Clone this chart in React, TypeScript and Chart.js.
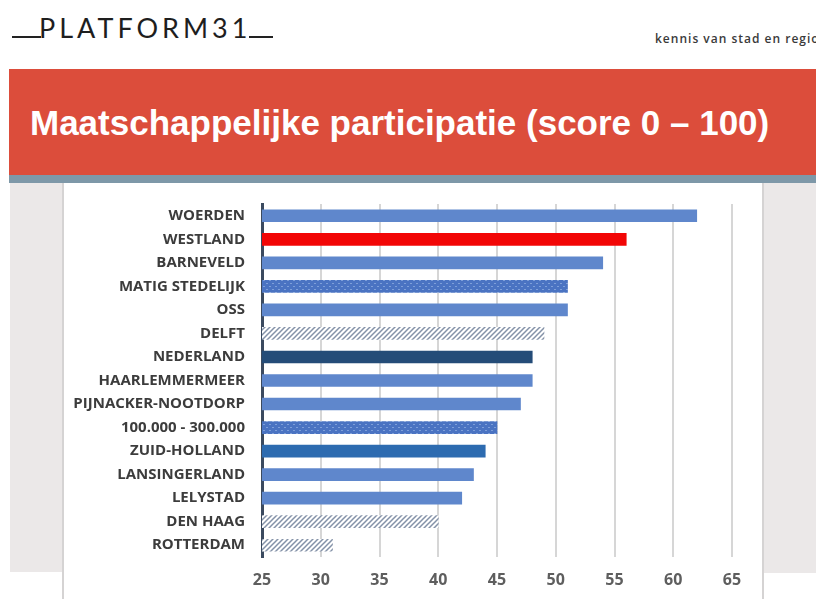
import React, { useEffect, useRef } from "react";
import { Chart, registerables } from "chart.js";

Chart.register(...registerables);

const categories = [
  "WOERDEN",
  "WESTLAND",
  "BARNEVELD",
  "MATIG STEDELIJK",
  "OSS",
  "DELFT",
  "NEDERLAND",
  "HAARLEMMERMEER",
  "PIJNACKER-NOOTDORP",
  "100.000 - 300.000",
  "ZUID-HOLLAND",
  "LANSINGERLAND",
  "LELYSTAD",
  "DEN HAAG",
  "ROTTERDAM",
];

const scores = [62, 56, 54, 51, 51, 49, 48, 48, 47, 45, 44, 43, 42, 40, 31];

const xTickValues = [25, 30, 35, 40, 45, 50, 55, 60, 65];

const titleText = "Maatschappelijke participatie (score 0 \u2013 100)";
const taglineText = "kennis van stad en regio";
const logoText = "PLATFORM31";

// style kind per category (kept apart from the data)
const kindOf: Record<string, string> = {
  WESTLAND: "red",
  "MATIG STEDELIJK": "dots",
  "100.000 - 300.000": "dots",
  DELFT: "hatch",
  "DEN HAAG": "hatch",
  ROTTERDAM: "hatch",
  NEDERLAND: "navy",
  "ZUID-HOLLAND": "mid",
};

function makeDots(): CanvasPattern | string {
  const c = document.createElement("canvas");
  c.width = 6;
  c.height = 6;
  const g = c.getContext("2d");
  if (!g) return "#4D76C4";
  g.fillStyle = "#4A73C2";
  g.fillRect(0, 0, 6, 6);
  g.fillStyle = "#7E9FD9";
  g.fillRect(1, 1, 2, 1);
  g.fillRect(4, 4, 2, 1);
  const p = g.createPattern(c, "repeat");
  return p || "#4D76C4";
}

function makeHatch(): CanvasPattern | string {
  const c = document.createElement("canvas");
  c.width = 5;
  c.height = 5;
  const g = c.getContext("2d");
  if (!g) return "#B0BAC8";
  g.fillStyle = "#FFFFFF";
  g.fillRect(0, 0, 5, 5);
  g.strokeStyle = "#8492A8";
  g.lineWidth = 1.5;
  g.beginPath();
  g.moveTo(-1, 6);
  g.lineTo(6, -1);
  g.moveTo(-1, 1);
  g.lineTo(1, -1);
  g.moveTo(4, 6);
  g.lineTo(6, 4);
  g.stroke();
  const p = g.createPattern(c, "repeat");
  return p || "#B0BAC8";
}

export default function App() {
  const ref = useRef<HTMLCanvasElement | null>(null);

  useEffect(() => {
    if (!ref.current) return;
    const dots = makeDots();
    const hatch = makeHatch();
    const colorFor = (name: string) => {
      const k = kindOf[name];
      if (k === "red") return "#F20606";
      if (k === "dots") return dots;
      if (k === "hatch") return hatch;
      if (k === "navy") return "#244C78";
      if (k === "mid") return "#2D6BB0";
      return "#5F87CC";
    };
    const chart = new Chart(ref.current, {
      type: "bar",
      data: {
        labels: categories,
        datasets: [
          {
            data: scores,
            backgroundColor: categories.map(colorFor) as any,
            borderWidth: 0,
            barThickness: 12,
          },
        ],
      },
      options: {
        indexAxis: "y",
        animation: false,
        responsive: false,
        maintainAspectRatio: false,
        layout: { padding: { top: 21, right: 30, bottom: 0, left: 0 } },
        plugins: {
          legend: { display: false },
          title: { display: false },
          tooltip: { enabled: false },
        },
        scales: {
          x: {
            type: "linear",
            min: 25,
            max: 65,
            afterFit: (axis: any) => {
              axis.height = 42;
              axis.paddingLeft = 0;
              axis.paddingRight = 0;
            },
            afterBuildTicks: (axis: any) => {
              axis.ticks = xTickValues.map((v) => ({ value: v }));
            },
            grid: {
              color: (ctx: any) =>
                ctx.tick && ctx.tick.value === 25 ? "rgba(0,0,0,0)" : "#D6D6D6",
              lineWidth: 2,
              drawTicks: false,
            },
            border: { display: false },
            ticks: {
              padding: 14,
              color: "#5E5E5E",
              font: { family: "'Open Sans'", size: 16, weight: "bold" },
            },
          },
          y: {
            afterFit: (axis: any) => {
              axis.width = 198;
              axis.paddingTop = 0;
              axis.paddingBottom = 0;
            },
            grid: { display: false, drawTicks: false },
            border: { display: true, color: "#3B4A5F", width: 3 },
            ticks: {
              padding: 17,
              color: "#3C3C3C",
              font: { family: "'Open Sans'", size: 15, weight: "bold" },
            },
          },
        },
      },
    });
    return () => chart.destroy();
  }, []);

  return (
    <div
      style={{
        position: "absolute",
        left: 0,
        top: 0,
        width: 816,
        height: 599,
        overflow: "hidden",
        background: "#FFFFFF",
      }}
    >
      {/* logo */}
      <div
        style={{
          position: "absolute",
          left: 12,
          top: 36,
          width: 29,
          height: 2,
          background: "#222",
        }}
      />
      <div
        style={{
          position: "absolute",
          left: 39,
          top: 13,
          fontFamily: "Lato, 'Open Sans', sans-serif",
          fontWeight: 400,
          fontSize: 27,
          lineHeight: "30px",
          letterSpacing: 4,
          color: "#1E1E1E",
          whiteSpace: "nowrap",
        }}
      >
        {logoText}
      </div>
      <div
        style={{
          position: "absolute",
          left: 249,
          top: 36,
          width: 24,
          height: 2,
          background: "#222",
        }}
      />
      <div
        style={{
          position: "absolute",
          left: 655,
          top: 31,
          fontFamily: "'Open Sans', sans-serif",
          fontWeight: 600,
          fontSize: 12,
          lineHeight: "15px",
          letterSpacing: 1,
          color: "#3A3A3A",
          whiteSpace: "nowrap",
        }}
      >
        {taglineText}
      </div>

      {/* banner */}
      <div
        style={{
          position: "absolute",
          left: 9,
          top: 69,
          width: 807,
          height: 106,
          background: "#DC4D3B",
        }}
      />
      <div
        style={{
          position: "absolute",
          left: 9,
          top: 175,
          width: 807,
          height: 8,
          background: "#7E98A8",
        }}
      />
      <div
        style={{
          position: "absolute",
          left: 30,
          top: 105,
          fontFamily: "'Liberation Sans', Arial, sans-serif",
          fontWeight: 700,
          fontSize: 35,
          lineHeight: "35px",
          color: "#FFFFFF",
          whiteSpace: "nowrap",
        }}
      >
        {titleText}
      </div>

      {/* grey side panels */}
      <div
        style={{
          position: "absolute",
          left: 10,
          top: 183,
          width: 52,
          height: 389,
          background: "#EBE8E8",
        }}
      />
      <div
        style={{
          position: "absolute",
          left: 62,
          top: 183,
          width: 2,
          height: 416,
          background: "#D5D3D3",
        }}
      />
      <div
        style={{
          position: "absolute",
          left: 764,
          top: 183,
          width: 52,
          height: 390,
          background: "#EBE8E8",
        }}
      />
      <div
        style={{
          position: "absolute",
          left: 762,
          top: 183,
          width: 2,
          height: 416,
          background: "#D5D3D3",
        }}
      />

      <canvas
        ref={ref}
        width={698}
        height={416}
        style={{ position: "absolute", left: 64, top: 183, width: 698, height: 416 }}
      />
    </div>
  );
}
